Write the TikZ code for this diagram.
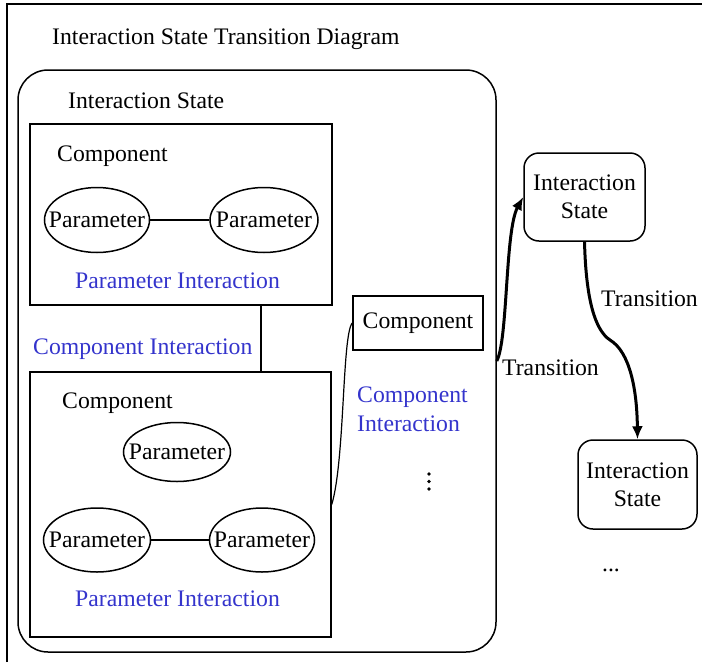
\documentclass[tikz,border=0pt]{standalone}
\usepackage{fontspec}
\setmainfont{Liberation Serif}
\usetikzlibrary{shapes.geometric,arrows.meta,calc}
\definecolor{linkblue}{RGB}{52,52,204}
\newcommand{\zw}[1]{\makebox[0pt][c]{#1}}
\tikzset{
  txt/.style={font=\fontsize{23.7}{28}\selectfont, inner sep=0pt},
  label/.style={txt, anchor=base west},
  bluelabel/.style={label, text=linkblue},
  paramnode/.style={txt, draw, ellipse, line width=1.5pt},
  compbox/.style={draw, rectangle, line width=1.5pt, inner sep=0pt},
  statebox/.style={txt, draw, rectangle, rounded corners=15pt, line width=1.5pt, align=center},
  thinlink/.style={line width=1.2pt},
  transition/.style={line width=3pt, -{Latex[length=13pt,width=11pt]}},
  dotmark/.style={fill, circle, inner sep=0pt, minimum size=3.6pt},
}
\begin{document}
\begin{tikzpicture}[x=1pt,y=-1pt]
\useasboundingbox (0,0) rectangle (702,662);

% outer frame
\draw[line width=1.8pt] (7,662) -- (7,4) -- (702,4);
\node[label] (title) at (52,44) {Interaction State Transition Diagram};

% interaction state container
\node[draw, rectangle, rounded corners=30pt, line width=1.5pt,
      minimum width=478pt, minimum height=582pt] (isr) at (257,361) {};
\node[label] (isrlabel) at (68,108) {Interaction State};

% first component
\node[compbox, minimum width=302pt, minimum height=181pt] (c1) at (181,214.5) {};
\node[label] (c1label) at (57,161) {Component};
\node[paramnode, minimum width=105pt, minimum height=65pt] (p1) at (97,220) {\zw{Parameter}};
\node[paramnode, minimum width=108pt, minimum height=65pt] (p2) at (264,220) {\zw{Parameter}};
\draw[thinlink] (p1.east) -- (p2.west);
\node[bluelabel] (pi1) at (75,288) {Parameter Interaction};

% second component
\node[compbox, minimum width=301pt, minimum height=265pt] (c2) at (180.5,504.5) {};
\node[label] (c2label) at (62,408) {Component};
\node[paramnode, minimum width=107pt, minimum height=59pt] (p3) at (177,452) {\zw{Parameter}};
\node[paramnode, minimum width=107pt, minimum height=64pt] (p4) at (97,540) {\zw{Parameter}};
\node[paramnode, minimum width=105pt, minimum height=64pt] (p5) at (262,540) {\zw{Parameter}};
\draw[thinlink] (p4.east) -- (p5.west);
\node[bluelabel] (pi2) at (75,606) {Parameter Interaction};

% link between the two components
\draw[line width=1.5pt] ([xshift=80pt]c1.south) -- ([xshift=80.5pt]c2.north);
\node[bluelabel] (ci1) at (33,354) {Component Interaction};

% third component
\node[compbox, txt, minimum width=130pt, minimum height=54pt] (c3) at (418,323) {Component};
\draw[thinlink] (c2.east) .. controls (345,460) and (342,335) .. (c3.west);
\node[bluelabel] (ci2a) at (357,402) {Component};
\node[bluelabel] (ci2b) at (357,431) {Interaction};
% vertical ellipsis
\node[dotmark] (vd1) at (429,474) {};
\node[dotmark] (vd2) at (429,481.5) {};
\node[dotmark] (vd3) at (429,489) {};

% following states
\node[statebox, minimum width=121pt, minimum height=88pt] (is1) at (584.5,197)
  {Interaction\\[0pt]State};
\node[statebox, minimum width=119pt, minimum height=89pt] (is2) at (637.5,484.5)
  {Interaction\\[0pt]State};
\draw[transition] (isr.east) .. controls (508,340) and (505,230) .. (is1.west);
\node[label] (t1) at (502,375) {Transition};
\draw[transition] (is1.south) .. controls (586,300) and (595,330) .. (610,340)
  .. controls (630,352) and (637,390) .. (is2.north);
\node[label] (t2) at (601,306) {Transition};
\node[txt] (more) at (611,570) {...};
\end{tikzpicture}
\end{document}
